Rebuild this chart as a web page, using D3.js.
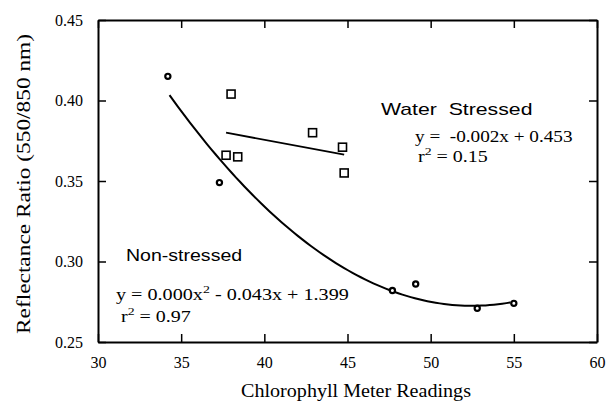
<!DOCTYPE html>
<html>
<head>
<meta charset="utf-8">
<script src="https://d3js.org/d3.v7.min.js"></script>
<style>
  body { margin: 0; background: #fff; }
  .axis text { font-family: "Liberation Serif", "Times New Roman", serif; font-size: 16px; fill: #000; }
</style>
</head>
<body>
<div id="chart"></div>
<script>
// non-stressed readings (circles)
var nonStressedX = [34.2, 37.3, 47.7, 49.1, 52.8, 55.0];
var nonStressedY = [0.415, 0.349, 0.282, 0.286, 0.271, 0.274];
// water stressed readings (squares)
var stressedX = [38.0, 42.9, 44.7, 37.7, 38.4, 44.8];
var stressedY = [0.404, 0.380, 0.371, 0.366, 0.365, 0.355];
// fitted trend coefficients and extents
var nonStressedFit = [0.000395, -0.041475, 1.3612]; // a, b, c
var nonStressedRange = [34.3, 55.0];
var stressedFit = [-0.00193, 0.4528]; // slope, intercept
var stressedRange = [37.7, 44.8];

var xTicks = [30, 35, 40, 45, 50, 55, 60];
var yTicks = [0.25, 0.30, 0.35, 0.40, 0.45];

var margin = {top: 20, right: 11, bottom: 66, left: 98},
    width = 608 - margin.left - margin.right,
    height = 408 - margin.top - margin.bottom;

var svg = d3.select("#chart").append("svg")
    .attr("width", 608)
    .attr("height", 408);

var g = svg.append("g")
    .attr("transform", "translate(" + margin.left + "," + margin.top + ")");

var x = d3.scaleLinear().domain([30, 60]).range([0, width]);
var y = d3.scaleLinear().domain([0.25, 0.45]).range([height, 0]);

// axes with inward ticks
g.append("g").attr("class", "axis")
    .attr("transform", "translate(0," + height + ")")
    .call(d3.axisBottom(x).tickValues(xTicks).tickSizeInner(-8).tickSizeOuter(0).tickPadding(15).tickFormat(d3.format("d")));
g.append("g").attr("class", "axis")
    .call(d3.axisTop(x).tickValues(xTicks).tickSizeInner(-8).tickSizeOuter(0).tickFormat(""));
g.append("g").attr("class", "axis")
    .call(d3.axisLeft(y).tickValues(yTicks).tickSizeInner(-8).tickSizeOuter(0).tickPadding(15).tickFormat(d3.format(".2f")));
g.append("g").attr("class", "axis")
    .attr("transform", "translate(" + width + ",0)")
    .call(d3.axisRight(y).tickValues(yTicks).tickSizeInner(-8).tickSizeOuter(0).tickFormat(""));

g.selectAll(".axis path").attr("stroke", "#000").attr("stroke-width", 2);
g.selectAll(".axis line").attr("stroke", "#000").attr("stroke-width", 1.5);

// trend lines
var curve = d3.range(nonStressedRange[0], nonStressedRange[1] + 0.01, 0.25).map(function(v) {
  return [v, nonStressedFit[0] * v * v + nonStressedFit[1] * v + nonStressedFit[2]];
});
var line = d3.line().x(function(d) { return x(d[0]); }).y(function(d) { return y(d[1]); });

g.append("path").datum(curve)
    .attr("d", line)
    .attr("fill", "none").attr("stroke", "#000").attr("stroke-width", 2);

g.append("path").datum(stressedRange.map(function(v) { return [v, stressedFit[0] * v + stressedFit[1]]; }))
    .attr("d", line)
    .attr("fill", "none").attr("stroke", "#000").attr("stroke-width", 1.8);

// points
g.selectAll(".ns").data(nonStressedX).enter().append("circle")
    .attr("class", "ns")
    .attr("cx", function(d) { return x(d); })
    .attr("cy", function(d, i) { return y(nonStressedY[i]); })
    .attr("r", 2.6)
    .attr("fill", "#fff").attr("stroke", "#000").attr("stroke-width", 2.2);

g.selectAll(".ws").data(stressedX).enter().append("rect")
    .attr("class", "ws")
    .attr("x", function(d) { return x(d) - 4; })
    .attr("y", function(d, i) { return y(stressedY[i]) - 4; })
    .attr("width", 8).attr("height", 8)
    .attr("fill", "#fff").attr("stroke", "#000").attr("stroke-width", 1.6);

// annotations (the source type is stretched sideways, so scale x)
var sans = "'Liberation Sans', Arial, sans-serif",
    serif = "'Liberation Serif', 'Times New Roman', serif";

function label(tx, ty, fam, size, sx) {
  return svg.append("g")
      .attr("transform", "translate(" + tx + "," + ty + ") scale(" + (sx || 1) + ",1)")
    .append("text")
      .attr("font-family", fam).attr("font-size", size).attr("fill", "#000")
      .attr("xml:space", "preserve");
}

function withSquare(t, before, after) {
  t.append("tspan").text(before);
  t.append("tspan").attr("dy", -7).attr("font-size", 11).text("2");
  t.append("tspan").attr("dy", 7).text(after);
}

label(381, 115, sans, 17, 1.25).text("Water  Stressed");
label(415, 142, serif, 16, 1.2).text("y =  -0.002x + 0.453");
withSquare(label(418, 162, serif, 16, 1.25), "r", " = 0.15");

label(126, 261, sans, 17, 1.15).text("Non-stressed");
withSquare(label(116, 300, serif, 16, 1.26), "y = 0.000x", " - 0.043x + 1.399");
withSquare(label(121, 322, serif, 16, 1.25), "r", " = 0.97");

// axis titles
svg.append("text")
    .attr("x", 356).attr("y", 397)
    .attr("text-anchor", "middle")
    .attr("font-family", serif).attr("font-size", 18)
    .attr("textLength", 230).attr("lengthAdjust", "spacingAndGlyphs")
    .text("Chlorophyll Meter Readings");

svg.append("text")
    .attr("transform", "translate(30," + 184 + ") rotate(-90)")
    .attr("text-anchor", "middle")
    .attr("font-family", serif).attr("font-size", 19)
    .attr("textLength", 300).attr("lengthAdjust", "spacingAndGlyphs")
    .text("Reflectance Ratio (550/850 nm)");
</script>
</body>
</html>
